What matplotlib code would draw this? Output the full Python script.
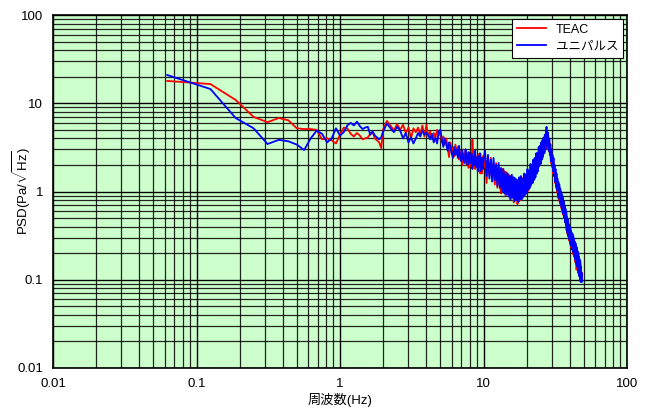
import numpy as np
import matplotlib
matplotlib.use("Agg")
import matplotlib.pyplot as plt
from matplotlib.ticker import LogLocator, NullFormatter, FixedLocator, FixedFormatter

plt.rcParams['font.family'] = ['Liberation Sans', 'Noto Sans CJK JP', 'DejaVu Sans']
plt.rcParams['mathtext.fontset'] = 'custom'
plt.rcParams['mathtext.rm'] = 'Liberation Sans'
plt.rcParams['mathtext.it'] = 'Liberation Sans'

# Frequency bins: 0.0625 Hz up to 2 Hz, 0.125 Hz up to 10 Hz, 0.25 Hz up to 48.5 Hz
freq_lo = np.arange(1, 33) * 0.0625
freq_mid = 2.0 + np.arange(1, 65) * 0.125
freq_hi = 10.0 + np.arange(1, 155) * 0.25
freq = np.concatenate([freq_lo, freq_mid, freq_hi])

teac_lo = [17.9, 16.5, 10.9, 7.0, 6.1, 6.8, 6.4, 5.2, 5.1, 5.1, 5.0, 3.9, 4.0, 3.8, 3.5, 4.4,
           5.3, 5.2, 4.5, 4.2, 4.6, 4.3, 3.9, 4.0, 4.1, 4.5, 4.7, 4.0, 3.8, 3.6, 3.1, 5.1]
teac_mid = [6.3, 5.6, 4.9, 5.8, 5.0, 5.7, 4.6, 5.3,
            4.0, 5.2, 4.7, 5.3, 4.4, 5.6, 4.2, 5.7,
            4.2, 4.8, 3.9, 4.6, 4.1, 5.0, 4.3, 4.9,
            3.6, 4.2, 3.4, 4.0, 3.2, 2.45, 3.6, 3.0,
            3.1, 2.5, 3.4, 2.7, 3.2, 2.3, 2.9, 2.6,
            2.0, 2.7, 2.2, 3.0, 2.0, 2.7, 1.85, 2.5,
            2.6, 1.9, 3.85, 2.2, 2.8, 1.8, 2.5, 2.1,
            2.4, 1.7, 2.7, 1.6, 2.2, 1.6, 2.5, 1.8]
teac_hi = [2.7, 1.25, 2.4, 1.5, 2.4, 1.3, 2.1, 1.2,
           2.1, 1.1, 1.9, 1.2, 0.95, 1.8, 1.0, 1.7,
           0.9, 1.65, 1.0, 1.55, 0.82, 1.5, 0.88, 1.45,
           0.75, 1.4, 0.8, 1.35, 0.72, 1.3, 0.78, 1.35,
           0.8, 1.4, 0.85, 1.45, 0.9, 1.55, 0.95, 1.5,
           1.0, 1.7, 1.05, 1.65, 1.15, 1.95, 1.25, 1.9,
           1.35, 2.25, 1.4, 2.2, 1.6, 2.6, 1.7, 2.5,
           1.9, 3.0, 2.0, 2.9, 2.3, 3.4, 2.4, 3.5,
           2.7, 3.8, 2.8, 4.0, 3.1, 4.2, 3.3, 4.1,
           3.0, 3.9, 2.8, 3.5, 2.9, 2.1, 2.7, 1.9,
           2.4, 1.6, 2.1, 1.5, 1.85, 1.25, 1.6, 1.1,
           1.45, 0.98, 1.3, 0.85, 1.2, 0.8, 1.1, 0.75,
           1.0, 0.7, 0.92, 0.64, 0.86, 0.58, 0.78, 0.54,
           0.72, 0.5, 0.65, 0.45, 0.6, 0.41, 0.55, 0.36,
           0.48, 0.33, 0.45, 0.31, 0.4, 0.28, 0.37, 0.26,
           0.36, 0.25, 0.34, 0.23, 0.32, 0.22, 0.3, 0.2,
           0.29, 0.19, 0.27, 0.18, 0.25, 0.16, 0.24, 0.15,
           0.23, 0.13, 0.22, 0.14, 0.21, 0.12, 0.19, 0.12,
           0.18, 0.11, 0.16, 0.11, 0.15, 0.1, 0.14, 0.11,
           0.12, 0.12]

unipulse_lo = [20.9, 14.5, 6.8, 5.2, 3.45, 3.85, 3.7, 3.4, 2.95, 4.0, 4.9, 4.5, 3.6, 4.0, 5.2, 4.3,
               4.7, 5.6, 6.0, 5.6, 6.2, 5.5, 5.1, 5.3, 5.4, 4.4, 4.8, 4.3, 4.1, 3.9, 4.1, 4.8]
unipulse_mid = [5.9, 5.2, 4.7, 5.4, 4.9, 4.0, 4.6, 3.6,
                4.1, 3.5, 4.0, 4.6, 4.2, 4.9, 4.4, 4.6,
                4.4, 3.9, 4.5, 3.6, 4.1, 3.5, 4.8, 5.0,
                3.9, 3.2, 4.0, 3.4, 2.9, 3.6, 3.2, 2.7,
                2.4, 3.2, 2.6, 3.0, 2.4, 3.3, 2.5, 2.2,
                2.9, 2.3, 2.1, 3.0, 2.4, 2.0, 2.8, 2.2,
                2.1, 2.7, 1.8, 2.5, 2.0, 2.9, 1.9, 2.4,
                1.7, 2.5, 1.9, 2.7, 1.7, 2.4, 1.8, 2.3]
unipulse_hi = [2.9, 1.5, 2.6, 1.4, 2.3, 1.3, 2.4, 1.35,
               2.0, 1.15, 2.1, 1.1, 1.85, 1.0, 1.8, 0.95,
               1.65, 0.92, 1.6, 0.88, 1.5, 0.82, 1.55, 0.85,
               1.45, 0.78, 1.4, 0.8, 1.35, 0.76, 1.45, 0.82,
               1.5, 0.82, 1.4, 0.88, 1.6, 0.92, 1.55, 0.95,
               1.8, 1.05, 1.7, 1.1, 2.05, 1.2, 2.0, 1.25,
               2.3, 1.35, 2.4, 1.45, 2.7, 1.6, 2.75, 1.7,
               3.2, 1.95, 3.3, 2.05, 3.6, 2.3, 3.8, 2.5,
               4.1, 2.7, 4.4, 3.0, 4.6, 5.4, 3.3, 4.7,
               4.3, 2.9, 4.0, 2.6, 3.4, 2.2, 3.0, 1.95,
               2.6, 1.7, 2.4, 1.5, 2.0, 1.3, 1.8, 1.15,
               1.6, 1.05, 1.4, 0.9, 1.28, 0.85, 1.2, 0.78,
               1.08, 0.72, 1.0, 0.66, 0.93, 0.61, 0.85, 0.56,
               0.77, 0.51, 0.7, 0.45, 0.64, 0.42, 0.59, 0.37,
               0.51, 0.34, 0.48, 0.31, 0.43, 0.29, 0.4, 0.27,
               0.39, 0.25, 0.36, 0.24, 0.34, 0.22, 0.33, 0.21,
               0.31, 0.2, 0.29, 0.19, 0.27, 0.17, 0.26, 0.16,
               0.24, 0.15, 0.23, 0.14, 0.21, 0.13, 0.2, 0.12,
               0.18, 0.11, 0.17, 0.1, 0.16, 0.095, 0.14, 0.095,
               0.12, 0.095]

teac = np.array(teac_lo + teac_mid + teac_hi)
unipulse = np.array(unipulse_lo + unipulse_mid + unipulse_hi)

x_ticks = [0.01, 0.1, 1, 10, 100]
x_labels = ['0.01', '0.1', '1', '10', '100']
y_ticks = [0.01, 0.1, 1, 10, 100]
y_labels = ['0.01', '0.1', '1', '10', '100']

fig = plt.figure(figsize=(6.49, 4.12), dpi=100)
ax = fig.add_axes([53 / 649, 1 - 368 / 412, 574 / 649, 353 / 412])
ax.set_facecolor('#CCFFCC')

ax.plot(freq, teac, color='#FF0000', lw=1.3, label='TEAC', zorder=3)
ax.plot(freq, unipulse, color='#0000FF', lw=1.3, label='ユニパルス', zorder=4)

ax.set_xscale('log')
ax.set_yscale('log')
ax.set_xlim(0.01, 100)
ax.set_ylim(0.01, 100)

ax.xaxis.set_major_locator(FixedLocator(x_ticks))
ax.xaxis.set_major_formatter(FixedFormatter(x_labels))
ax.yaxis.set_major_locator(FixedLocator(y_ticks))
ax.yaxis.set_major_formatter(FixedFormatter(y_labels))
ax.xaxis.set_minor_locator(LogLocator(base=10, subs=np.arange(2, 10)))
ax.yaxis.set_minor_locator(LogLocator(base=10, subs=np.arange(2, 10)))
ax.xaxis.set_minor_formatter(NullFormatter())
ax.yaxis.set_minor_formatter(NullFormatter())

ax.grid(True, which='major', color='#000000', lw=1.0, zorder=1)
ax.grid(True, which='minor', color='#000000', lw=0.9, alpha=0.85, zorder=1)
ax.set_axisbelow(True)
ax.tick_params(which='both', length=0, labelsize=9.5, pad=7, colors='#000000')

for s in ax.spines.values():
    s.set_color('#000000')
    s.set_linewidth(1.2)

ax.set_xlabel('周波数(Hz)', fontsize=9.5, labelpad=2)
fig.text(22 / 649, 1 - 191 / 412, r'PSD(Pa/$\sqrt{\mathrm{Hz}}$)', fontsize=9.5,
         rotation=90, ha='center', va='center')

leg = ax.legend(loc='upper right', fontsize=9, frameon=True, fancybox=False,
                edgecolor='#000000', facecolor='#FFFFFF', framealpha=1,
                handlelength=2.3, borderaxespad=0.3, labelspacing=0.4)
leg.get_frame().set_linewidth(0.8)

fig.savefig('out.png', dpi=100)
